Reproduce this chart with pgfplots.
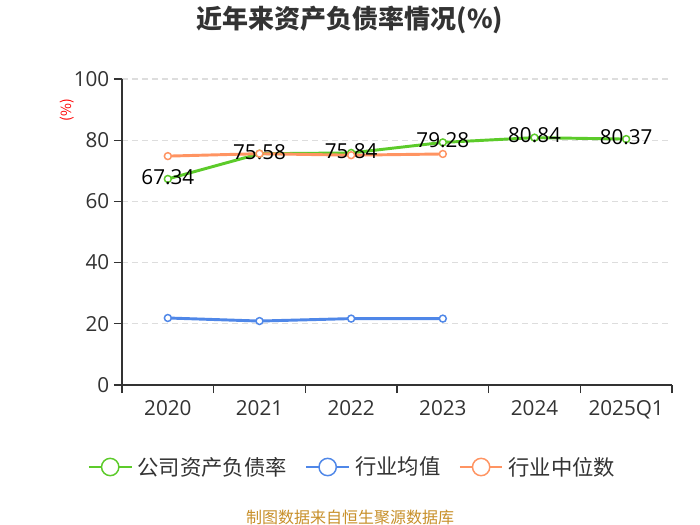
\documentclass[border=0pt]{standalone}
\usepackage{pgfplots}
\pgfplotsset{compat=1.18}
\usepackage{fontspec}
\setmainfont{Noto Sans CJK SC}
\newfontfamily\numfont{Open Sans}
\definecolor{cgreen}{HTML}{5CCB2A}
\definecolor{cblue}{HTML}{4F87E8}
\definecolor{corange}{HTML}{FF9462}
\definecolor{ctext}{HTML}{333333}
\definecolor{cgrid}{HTML}{DDDDDD}
\definecolor{cfoot}{HTML}{C8902A}
\begin{document}
\begin{tikzpicture}[x=0.75pt,y=-0.75pt]
\path[use as bounding box, fill=white] (0,0) rectangle (700,525);
\node[font=\bfseries\fontsize{19.5}{22}\selectfont, text=ctext] at (350,20) {近年来资产负债率情况(\%)};
\node[font=\fontsize{10.5}{12}\selectfont, text=red, rotate=90] at (67,110) {(\%)};
\node[font=\fontsize{12}{14}\selectfont, text=cfoot] at (350,517) {制图数据来自恒生聚源数据库};
\begin{axis}[
  at={(91.5pt,-288.75pt)}, anchor=south west,
  scale only axis, width=412.5pt, height=229.5pt,
  xmin=-0.5, xmax=5.5, ymin=0, ymax=100,
  axis x line=bottom, axis y line=left,
  axis line style={-, draw=ctext, line width=0.9pt},
  xtick={0,...,5},
  xticklabels={2020,2021,2022,2023,2024,2025Q1},
  minor xtick={-0.5,0.5,...,5.5},
  major x tick style={draw=none},
  minor x tick style={draw=ctext, line width=0.9pt},
  tick align=outside,
  minor tick length=6pt,
  major tick length=6pt,
  ytick={0,20,...,100},
  y tick style={draw=ctext, line width=0.9pt},
  ymajorgrids,
  major grid style={draw=cgrid, line width=1pt, dash pattern=on 4.5pt off 3pt},
  /pgf/number format/assume math mode=true,
  tick label style={font=\numfont\fontsize{15.5}{17}\selectfont, text=ctext},
  xticklabel style={yshift=-2pt},
  yticklabel style={xshift=0pt},
  clip=false,
  legend style={at={(0.42,-0.268)}, anchor=center, draw=none, fill=none,
    legend columns=3, font=\fontsize{16}{18}\selectfont, text=ctext,
    /tikz/every odd column/.append style={column sep=2pt},
    /tikz/every even column/.append style={column sep=12pt}},
  legend image code/.code={
    \draw[#1, line width=1.1pt] (0pt,0pt) -- (32pt,0pt);
    \draw[#1, line width=1.1pt, fill=white] (16pt,0pt) circle (6.5pt);
  },
]
\addplot[cgreen, line width=2.2pt, mark=*, mark size=2.6pt,
  mark options={fill=white, line width=1.1pt},
  nodes near coords, point meta=explicit symbolic,
  every node near coord/.style={anchor=center, yshift=1.5pt, font=\numfont\fontsize{15.5}{17}\selectfont, text=black}]
  table[meta=l] {
x y l
0 67.34 67.34
1 75.58 75.58
2 75.84 75.84
3 79.28 79.28
4 80.84 80.84
5 80.37 80.37
};
\addlegendentry{公司资产负债率}
\addplot[cblue, line width=2.2pt, mark=*, mark size=2.6pt,
  mark options={fill=white, line width=1.1pt}]
  coordinates {(0,21.9) (1,20.9) (2,21.7) (3,21.7)};
\addlegendentry{行业均值}
\addplot[corange, line width=2.2pt, mark=*, mark size=2.6pt,
  mark options={fill=white, line width=1.1pt}]
  coordinates {(0,74.8) (1,75.6) (2,75.1) (3,75.5)};
\addlegendentry{行业中位数}
\end{axis}
\end{tikzpicture}
\end{document}
